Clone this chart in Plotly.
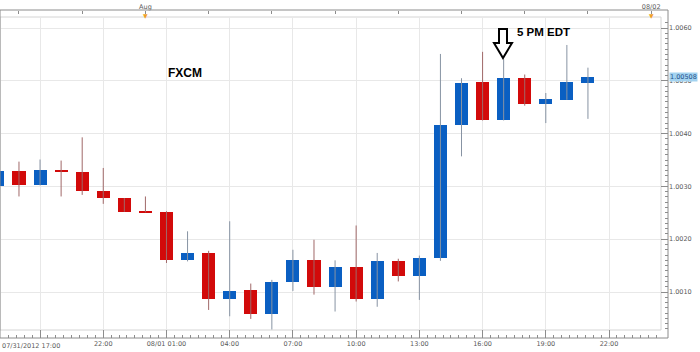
import plotly.graph_objects as go

# ---------------- data (hourly EUR/USD-like candles) -------------
TIMES = [
    "2012-07-31 17:00", "2012-07-31 18:00", "2012-07-31 19:00", "2012-07-31 20:00",
    "2012-07-31 21:00", "2012-07-31 22:00", "2012-07-31 23:00", "2012-08-01 00:00",
    "2012-08-01 01:00", "2012-08-01 02:00", "2012-08-01 03:00", "2012-08-01 04:00",
    "2012-08-01 05:00", "2012-08-01 06:00", "2012-08-01 07:00", "2012-08-01 08:00",
    "2012-08-01 09:00", "2012-08-01 10:00", "2012-08-01 11:00", "2012-08-01 12:00",
    "2012-08-01 13:00", "2012-08-01 14:00", "2012-08-01 15:00", "2012-08-01 16:00",
    "2012-08-01 17:00", "2012-08-01 18:00", "2012-08-01 19:00", "2012-08-01 20:00",
    "2012-08-01 21:00",
]
OPEN = [1.00301, 1.00330, 1.00302, 1.00332, 1.00328, 1.00292, 1.00278, 1.00253,
        1.00252, 1.00161, 1.00173, 1.00087, 1.00103, 1.00058, 1.00119, 1.00161,
        1.00109, 1.00147, 1.00087, 1.00159, 1.00131, 1.00164, 1.00416, 1.00497,
        1.00425, 1.00505, 1.00457, 1.00464, 1.00496]
HIGH = [1.00335, 1.00347, 1.00351, 1.00349, 1.00393, 1.00335, 1.00278, 1.00281,
        1.00253, 1.00215, 1.00178, 1.00234, 1.00116, 1.00123, 1.00180, 1.00199,
        1.00160, 1.00226, 1.00174, 1.00163, 1.00169, 1.00551, 1.00505, 1.00555,
        1.00541, 1.00512, 1.00477, 1.00568, 1.00525]
LOW = [1.00294, 1.00281, 1.00302, 1.00281, 1.00284, 1.00267, 1.00252, 1.00251,
       1.00155, 1.00158, 1.00066, 1.00054, 1.00049, 1.00029, 1.00102, 1.00095,
       1.00063, 1.00082, 1.00072, 1.00120, 1.00085, 1.00159, 1.00357, 1.00425,
       1.00425, 1.00453, 1.00420, 1.00464, 1.00428]
CLOSE = [1.00330, 1.00302, 1.00332, 1.00328, 1.00291, 1.00278, 1.00252, 1.00251,
         1.00161, 1.00173, 1.00087, 1.00102, 1.00058, 1.00119, 1.00161, 1.00109,
         1.00147, 1.00087, 1.00158, 1.00131, 1.00164, 1.00416, 1.00496, 1.00425,
         1.00505, 1.00457, 1.00466, 1.00497, 1.00508]

TICK_VALS = ["2012-07-31 19:00", "2012-07-31 22:00", "2012-08-01 01:00", "2012-08-01 04:00",
             "2012-08-01 07:00", "2012-08-01 10:00", "2012-08-01 13:00", "2012-08-01 16:00",
             "2012-08-01 19:00", "2012-08-01 22:00"]
TICK_LABELS = ["07/31/2012 17:00", "22:00", "08/01 01:00", "04:00", "07:00", "10:00",
               "13:00", "16:00", "19:00", "22:00"]
TOP_TICKS = ["2012-07-31 18:00", "2012-07-31 21:00", "2012-08-01 00:00", "2012-08-01 03:00",
             "2012-08-01 06:00", "2012-08-01 09:00", "2012-08-01 12:00", "2012-08-01 15:00",
             "2012-08-01 18:00", "2012-08-01 21:00", "2012-08-02 00:00"]
TOP_LABELS = {"2012-08-01 00:00": "Aug", "2012-08-02 00:00": "08/02"}

X_RANGE = ["2012-07-31 17:06", "2012-08-02 00:28"]
Y_RANGE = [1.00028, 1.00621]

# ---------------- styling ----------------
UP_COL = "#0a5fc2"
DOWN_COL = "#d20a0a"
UP_WICK = "#8793a3"
DOWN_WICK = "#a06868"
BODY_W_MS = 0.62 * 3600 * 1000
TICK_FONT = dict(family="DejaVu Sans", size=6.5, color="#5a5a5a")
PW, PH_TOP, PH_BOT = 668.0, 10.0, 338.0


def px(x):
    return x / PW


def py(y):
    return (PH_BOT - y) / (PH_BOT - PH_TOP)


up = [i for i in range(len(TIMES)) if CLOSE[i] >= OPEN[i]]
down = [i for i in range(len(TIMES)) if CLOSE[i] < OPEN[i]]

fig = go.Figure()


def wick_trace(ids, color):
    xs, ys = [], []
    for i in ids:
        xs += [TIMES[i], TIMES[i], None]
        ys += [LOW[i], HIGH[i], None]
    return go.Scatter(x=xs, y=ys, mode="lines", line=dict(color=color, width=1),
                      hoverinfo="skip", showlegend=False)


def body_trace(ids, color):
    return go.Bar(
        x=[TIMES[i] for i in ids],
        y=[max(abs(CLOSE[i] - OPEN[i]), 0.00002) for i in ids],
        base=[min(OPEN[i], CLOSE[i]) for i in ids],
        width=[BODY_W_MS] * len(ids),
        marker=dict(color=color, line=dict(width=0)),
        showlegend=False,
    )


fig.add_trace(wick_trace(down, DOWN_WICK))
fig.add_trace(wick_trace(up, UP_WICK))
fig.add_trace(body_trace(down, DOWN_COL))
fig.add_trace(body_trace(up, UP_COL))
# invisible trace so the top (navigator) axis is drawn
fig.add_trace(go.Scatter(x=[TOP_TICKS[0]], y=[Y_RANGE[0]], xaxis="x2", mode="markers",
                         marker=dict(opacity=0), hoverinfo="skip", showlegend=False))

x_dom = [0, 661 / PW]
y_dom = [py(330), py(17)]

fig.update_layout(
    width=700, height=352,
    margin=dict(l=0, r=32, t=10, b=14, pad=0),
    plot_bgcolor="white", paper_bgcolor="white",
    showlegend=False, bargap=0,
    xaxis=dict(
        type="date", range=X_RANGE, domain=x_dom, anchor="free", position=0,
        tickmode="array", tickvals=TICK_VALS, ticktext=[""] + TICK_LABELS[1:],
        ticks="inside", ticklen=8, tickcolor="#8c8c8c", tickwidth=1,
        showgrid=True, gridcolor="#e8e8e8", gridwidth=1,
        showline=False, zeroline=False, tickfont=TICK_FONT,
        minor=dict(dtick=1350000, tick0="2012-07-31 19:00", ticks="inside",
                   ticklen=3, tickcolor="#8c8c8c", showgrid=False),
    ),
    xaxis2=dict(
        type="date", range=X_RANGE, domain=x_dom, overlaying="x", anchor="free",
        position=1, side="top", tickmode="array", tickvals=TOP_TICKS,
        ticktext=[TOP_LABELS.get(t, "") for t in TOP_TICKS],
        ticks="inside", ticklen=3, tickcolor="#8c8c8c", showgrid=False,
        showline=False, zeroline=False, tickfont=TICK_FONT,
    ),
    yaxis=dict(
        range=Y_RANGE, domain=y_dom, anchor="free", position=1, side="right",
        tick0=1.0, dtick=0.001, tickformat=".4f",
        ticks="inside", ticklen=7, tickcolor="#8c8c8c",
        showgrid=True, gridcolor="#e8e8e8", zeroline=False, showline=False,
        tickfont=TICK_FONT,
        minor=dict(dtick=0.0001, ticks="inside", ticklen=3, tickcolor="#8c8c8c",
                   showgrid=False),
    ),
)

shapes = [
    # inner frame
    dict(type="rect", xref="x domain", yref="y domain", x0=0, x1=1, y0=0, y1=1,
         line=dict(color="#d4d4d4", width=1), layer="below"),
    # outer frame
    dict(type="rect", xref="paper", yref="paper", x0=0, x1=1, y0=0, y1=1,
         line=dict(color="#8c8c8c", width=1), layer="above"),
]
# hollow down arrow pointing at the 17:00 (5 PM EDT) candle
arrow_pts = [(499, 29), (507, 29), (507, 43), (512, 43), (503, 58), (494, 43), (499, 43)]
path = "M " + " L ".join(f"{px(a):.5f},{py(b):.5f}" for a, b in arrow_pts) + " Z"
shapes.append(dict(type="path", xref="paper", yref="paper", path=path,
                   line=dict(color="black", width=2), fillcolor="white", layer="above"))
fig.update_layout(shapes=shapes)

annotations = [
    dict(text=TICK_LABELS[0], xref="paper", yref="paper", x=0, y=py(346),
         xanchor="left", yanchor="middle", showarrow=False, font=TICK_FONT),
    dict(text="<b>FXCM</b>", xref="paper", yref="paper", x=px(185), y=py(73),
         xanchor="center", yanchor="middle", showarrow=False,
         font=dict(family="Liberation Sans", size=12, color="black")),
    dict(text="<b>5 PM EDT</b>", xref="paper", yref="paper", x=px(543), y=py(32),
         xanchor="center", yanchor="middle", showarrow=False,
         font=dict(family="Liberation Sans", size=11.5, color="black")),
    dict(text=f"{CLOSE[-1]:.5f}", xref="paper", yref="y", x=1, y=CLOSE[-1],
         xanchor="left", yanchor="middle", xshift=1, showarrow=False,
         bgcolor="#a3d3f0", borderpad=0,
         font=dict(family="DejaVu Sans", size=6.5, color="#1f4f8a")),
]
for t in TOP_LABELS:
    annotations.append(dict(text="▼", xref="x", yref="paper", x=t, y=1,
                            xanchor="center", yanchor="top", showarrow=False,
                            font=dict(family="DejaVu Sans", size=6, color="#f0a028")))
fig.update_layout(annotations=annotations)

fig.write_html("out.html")
